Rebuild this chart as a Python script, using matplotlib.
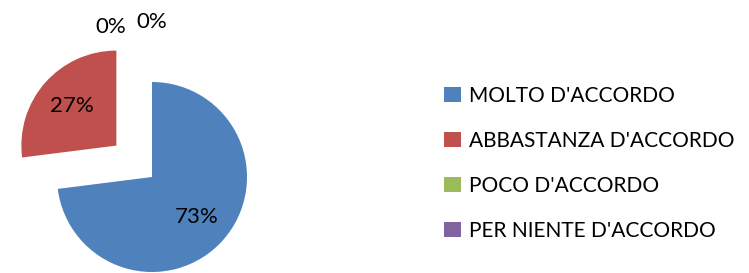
import matplotlib.pyplot as plt
from matplotlib.patches import Patch

# risposte (percentuali)
categories = ["MOLTO D'ACCORDO", "ABBASTANZA D'ACCORDO", "POCO D'ACCORDO", "PER NIENTE D'ACCORDO"]
values = [73, 27, 0, 0]
colors = ['#4F81BD', '#C0504D', '#9BBB59', '#8064A2']

plt.rcParams['font.family'] = ['Lato', 'DejaVu Sans']

fig = plt.figure(figsize=(7.49, 2.73), dpi=100)
ax = fig.add_axes([0, 0, 1, 1])

def fmt_pct(p):
    return f'{p:.0f}%' if p > 0 else ''

wedges, texts, autotexts = ax.pie(values, colors=colors, startangle=90, counterclock=False,
                                  explode=[0, 0.5, 0, 0], autopct=fmt_pct, pctdistance=0.63,
                                  textprops={'fontsize': 16, 'color': 'black'})

# etichette delle fette a 0%
ax.text(-0.43, 1.58, '0%', ha='center', va='center', fontsize=16)
ax.text(0.0, 1.63, '0%', ha='center', va='center', fontsize=16)

ax.set_aspect('equal')
ax.set_xlim(-1.6, 6.284)
ax.set_ylim(-1.0105, 1.863)
ax.axis('off')

handles = [Patch(facecolor=c, edgecolor='none') for c in colors]
fig.legend(handles, categories, loc='center left', bbox_to_anchor=(0.568, 0.402),
           frameon=False, fontsize=15, handlelength=0.8, handleheight=0.8,
           handletextpad=0.4, labelspacing=1.2)

fig.savefig('out.png', dpi=100)
